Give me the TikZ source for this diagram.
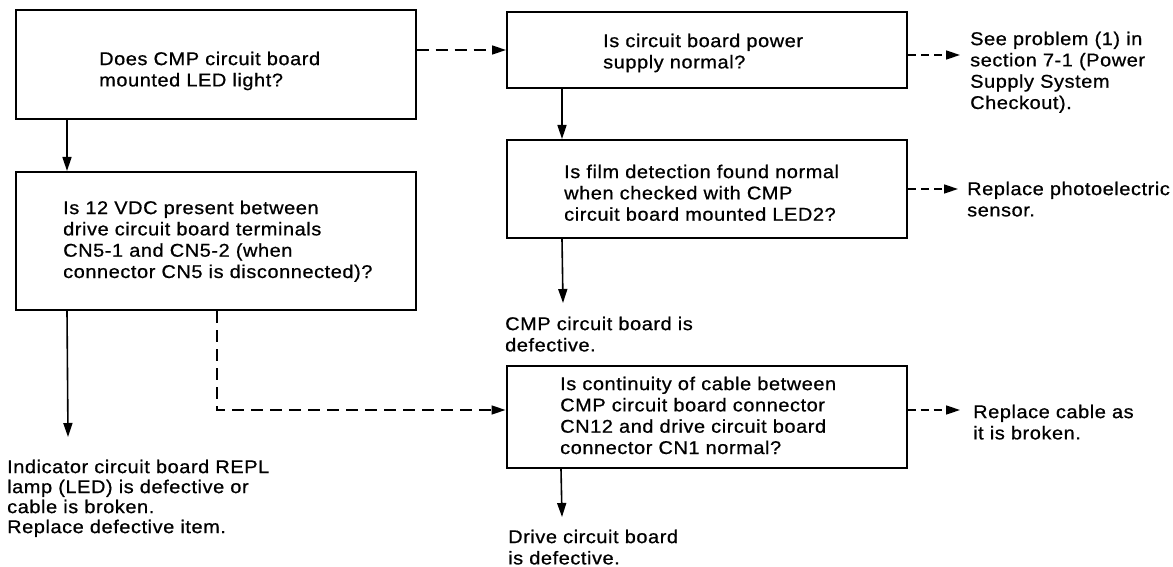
\documentclass[tikz,border=0pt]{standalone}
\usepackage{fontspec}
\setmainfont{Liberation Sans}[LetterSpace=3,FakeStretch=1.08,FakeBold=0.7]
\usetikzlibrary{arrows.meta}
\newcommand\mytxt{\fontsize{18.5pt}{21.3pt}\selectfont}
\newcommand\mytxtb{\fontsize{18.5pt}{20pt}\selectfont}
\begin{document}
\begin{tikzpicture}[x=1pt,y=-1pt,
  box/.style={draw,line width=2pt,inner sep=0pt,minimum width=400pt},
  leaf/.style={inner sep=0pt,align=left,font=\mytxt,anchor=north west},
  sol/.style={line width=1.6pt,-{Triangle[length=14pt,width=9pt]}},
  dsh/.style={sol,dash pattern=on 12pt off 7pt},
  dshs/.style={sol,dash pattern=on 8pt off 5pt}]
\useasboundingbox (0,0) rectangle (1173,567);

% decision boxes
\node[box,minimum height=109pt] (A) at (215.5,64.5) {};
\node[box,minimum height=138pt] (B) at (215.5,241) {};
\node[box,minimum height=76pt] (C) at (707,50) {};
\node[box,minimum height=98pt] (E) at (707,189) {};
\node[box,minimum height=102pt] (D) at (706.5,417) {};

% box texts
\node[leaf] (tA) at (99,51.5) {Does CMP circuit board\\mounted LED light?};
\node[leaf] (tB) at (63,200.5) {Is 12 VDC present between\\drive circuit board terminals\\CN5-1 and CN5-2 (when\\connector CN5 is disconnected)?};
\node[leaf] (tC) at (603,33.5) {Is circuit board power\\supply normal?};
\node[leaf] (tE) at (564,164.5) {Is film detection found normal\\when checked with CMP\\circuit board mounted LED2?};
\node[leaf] (tD) at (560,376.5) {Is continuity of cable between\\CMP circuit board connector\\CN12 and drive circuit board\\connector CN1 normal?};

% result texts
\node[leaf,font=\mytxtb] (L1) at (7,459.5) {Indicator circuit board REPL\\lamp (LED) is defective or\\cable is broken.\\Replace defective item.};
\node[leaf] (L2) at (970,31.5) {See problem (1) in\\section 7-1 (Power\\Supply System\\Checkout).};
\node[leaf] (L3) at (505,316.5) {CMP circuit board is\\defective.};
\node[leaf] (L4) at (967,181.5) {Replace photoelectric\\sensor.};
\node[leaf] (L5) at (508,529.5) {Drive circuit board\\is defective.};
\node[leaf] (L6) at (973,404.5) {Replace cable as\\it is broken.};

% connectors
\draw[sol] ([xshift=52.5pt]A.south west) -- ([xshift=52.5pt]B.north west);
\draw[sol] ([xshift=52.5pt]B.south west) -- ([xshift=61pt,yshift=22.5pt]L1.north west);
\draw[dsh] ([xshift=202.5pt]B.south west) |- ([yshift=7pt]D.west);
\draw[dsh] (A.east |- C.west) -- (C.west);
\draw[sol] ([xshift=56pt]C.south west) -- ([xshift=56pt]E.north west);
\draw[sol] ([xshift=56pt]E.south west) -- ([xshift=58pt,yshift=13.5pt]L3.north west);
\draw[sol] ([xshift=55.5pt]D.south west) -- ([xshift=54pt,yshift=12.5pt]L5.north west);
\draw[dshs] ([yshift=-5pt]C.east) -- ([xshift=-10pt,yshift=-23.5pt]L2.north west);
\draw[dshs] (E.east) -- ([xshift=-9pt,yshift=-7.5pt]L4.north west);
\draw[dshs] ([yshift=7pt]D.east) -- ([xshift=-13pt,yshift=-5.5pt]L6.north west);
\end{tikzpicture}
\end{document}
